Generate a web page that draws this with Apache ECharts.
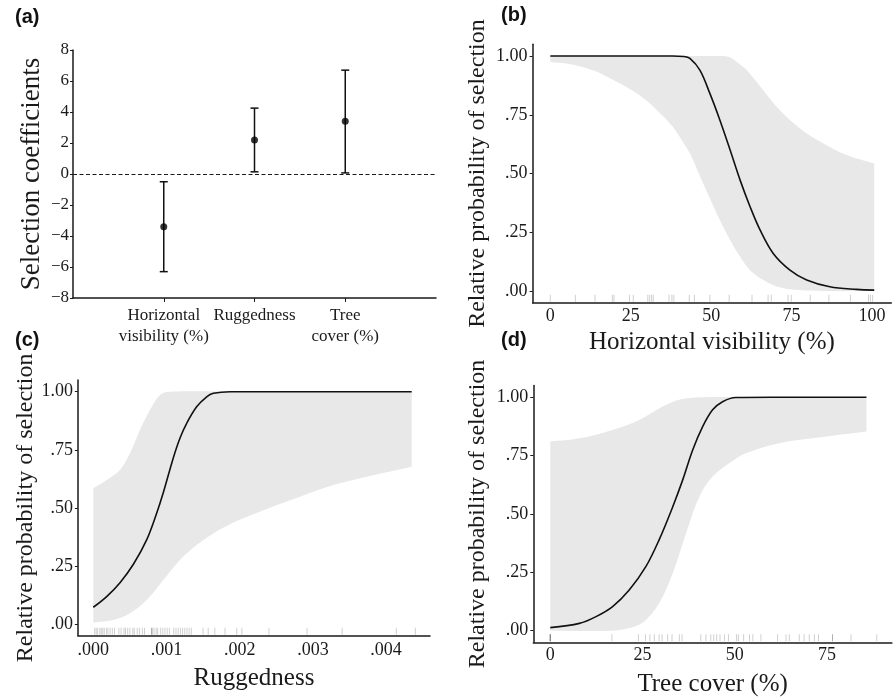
<!DOCTYPE html>
<html>
<head>
<meta charset="utf-8">
<script src="https://cdn.jsdelivr.net/npm/echarts@6/dist/echarts.min.js"></script>
<style>
	html, body { margin: 0; padding: 0; background: #fff; }
	#chart { width: 896px; height: 700px; }
</style>
</head>
<body>
<div id="chart"></div>
<script>
// (a) selection coefficients with 95% CI
var coefCats = ['Horizontal\nvisibility (%)', 'Ruggedness', 'Tree\ncover (%)'];
var coefMean = [-3.4, 2.2, 3.4];
var coefLow = [-6.3, 0.14, 0.07];
var coefHigh = [-0.5, 4.25, 6.7];

// shared probability axis ticks
var probTickVals = [0, 0.25, 0.5, 0.75, 1];
var probTickLabels = ['.00', '.25', '.50', '.75', '1.00'];

// (b) horizontal visibility
var bTickVals = [0, 25, 50, 75, 100];
var bCurveX = [0, 20, 38, 41.5, 43.4, 46.5, 49.6, 52.7, 55.9, 59, 62.1, 65.2, 69.3, 74.5, 79.7, 86.9, 95.2, 100.7];
var bCurveY = [1, 1, 1, 0.998, 0.99, 0.94, 0.841, 0.728, 0.6, 0.472, 0.359, 0.26, 0.16, 0.089, 0.047, 0.018, 0.007, 0.004];
var bUpX = [0, 20, 40, 50, 53.8, 55.9, 58, 61.1, 66.2, 71.3, 77.6, 84.9, 92.1, 100.7];
var bUpY = [1, 1, 1, 1, 1, 0.994, 0.975, 0.94, 0.855, 0.77, 0.692, 0.628, 0.579, 0.543];
var bLowX = [0, 5, 10, 15, 20, 25, 30, 35, 38, 41, 43.4, 46.5, 49.6, 52.7, 55.9, 59, 62.1, 66.2, 71.3, 77.6, 85, 100.7];
var bLowY = [0.975, 0.968, 0.953, 0.93, 0.895, 0.858, 0.81, 0.745, 0.7, 0.64, 0.585, 0.49, 0.395, 0.302, 0.217, 0.146, 0.089, 0.047, 0.016, 0.004, 0, 0];
var bRug = [0, 7.8, 13.9, 19.3, 19.8, 24.6, 25.8, 30.3, 30.9, 31.5, 32, 36.9, 37.8, 38.4, 43.2, 44.8, 49.6, 55.6, 62.7, 67.7, 68.7, 73.9, 74.9, 80.8, 86.6, 93.3, 98.9, 99.5, 100.2];

// (c) ruggedness
var cTickVals = [0, 0.001, 0.002, 0.003, 0.004];
var cTickLabels = ['.000', '.001', '.002', '.003', '.004'];
var cCurveX = [0, 0.000183, 0.000365, 0.000546, 0.000729, 0.000866, 0.000956, 0.001093, 0.001184, 0.001276, 0.001412, 0.001549, 0.00164, 0.00187, 0.0025, 0.00435];
var cCurveY = [0.072, 0.118, 0.178, 0.256, 0.362, 0.477, 0.565, 0.715, 0.8, 0.864, 0.935, 0.978, 0.993, 1, 1, 1];
var cUpX = [0, 0.000183, 0.000365, 0.000501, 0.000638, 0.000775, 0.000911, 0.001048, 0.002, 0.00435];
var cUpY = [0.584, 0.62, 0.663, 0.735, 0.835, 0.921, 0.986, 1, 1, 1];
var cLowX = [0, 0.000273, 0.000501, 0.000729, 0.000956, 0.001184, 0.001412, 0.001639, 0.0019, 0.002369, 0.002825, 0.00328, 0.003736, 0.00435];
var cLowY = [0.006, 0.017, 0.046, 0.103, 0.189, 0.276, 0.34, 0.39, 0.435, 0.495, 0.548, 0.598, 0.634, 0.677];
var cRug = [0.00002, 0.00004, 0.00006, 0.00009, 0.00011, 0.00013, 0.00015, 0.00018, 0.0002, 0.00023, 0.00026, 0.00029,
	0.00035, 0.00038, 0.00042, 0.00044, 0.00047, 0.0005, 0.00054, 0.00056, 0.0006, 0.00063, 0.00067, 0.0007,
	0.0008, 0.0008, 0.0008, 0.00083, 0.00086, 0.00088, 0.00092, 0.00095, 0.00098, 0.00101, 0.00104,
	0.0011, 0.00113, 0.00116, 0.00119, 0.00122, 0.00125, 0.00128, 0.00131, 0.00134,
	0.0015, 0.00157, 0.00166, 0.0018, 0.00196, 0.00203, 0.0024, 0.00292, 0.0034, 0.00414, 0.0044];

// (d) tree cover
var dTickVals = [0, 25, 50, 75];
var dCurveX = [0, 7.9, 12.4, 16.9, 21.4, 25.9, 29.5, 33.2, 35.9, 38.6, 41.3, 44, 46.7, 50.3, 60, 85.7];
var dCurveY = [0.013, 0.031, 0.06, 0.103, 0.174, 0.274, 0.389, 0.531, 0.646, 0.774, 0.874, 0.946, 0.981, 0.999, 1, 1];
var dUpX = [0, 7.9, 16.9, 24.1, 30.5, 34.9, 39.5, 60, 85.7];
var dUpY = [0.81, 0.824, 0.86, 0.903, 0.96, 0.989, 0.999, 1, 1];
var dLowX = [0, 16.9, 22.3, 25.9, 29.5, 33.2, 36.8, 40.4, 44, 48.5, 53, 62.1, 71.1, 85.7];
var dLowY = [0, 0, 0.014, 0.046, 0.117, 0.246, 0.417, 0.574, 0.66, 0.717, 0.76, 0.803, 0.824, 0.853];
var dRug = [0, 0, 0, 0, 0, 16.7, 23.9, 25.8, 27, 28.2, 29.5, 30.3, 31.8, 33, 35, 35.7, 40.8, 42.2, 43.5, 44.3, 45.1, 46,
	47.2, 48.3, 50.5, 51, 52.4, 54, 54.9, 57.1, 61.6, 63.9, 64.8, 67.5, 68.8, 70.2, 71.6, 72.7, 76.5, 76.5, 81.5, 88.5];

var SERIF = '"Liberation Serif", "DejaVu Serif", serif';
var INK = '#1a1a1a';
var RUG_Y = -0.031;
var SMOOTH = 0.35;

function pairs(xs, ys) {
	return xs.map(function(x, i) { return [x, ys[i]]; });
}

// bezier segments through pixel points, same idea as echarts' own line smoothing
function curveTo(p) {
	function ctrl(a, b, c) {
		var vx = c[0] - a[0], vy = c[1] - a[1];
		var d0 = Math.hypot(b[0] - a[0], b[1] - a[1]);
		var d1 = Math.hypot(c[0] - b[0], c[1] - b[1]);
		var r = d0 + d1 ? d0 / (d0 + d1) : 0.5;
		return {
			inP: [b[0] - vx * SMOOTH * r, b[1] - vy * SMOOTH * r],
			outP: [b[0] + vx * SMOOTH * (1 - r), b[1] + vy * SMOOTH * (1 - r)]
		};
	}
	var s = '';
	for (var i = 0; i < p.length - 1; i++) {
		var c1 = ctrl(p[i - 1] || p[i], p[i], p[i + 1]).outP;
		var c2 = ctrl(p[i], p[i + 1], p[i + 2] || p[i + 1]).inP;
		s += ' C' + c1[0] + ',' + c1[1] + ' ' + c2[0] + ',' + c2[1] + ' ' + p[i + 1][0] + ',' + p[i + 1][1];
	}
	return s;
}

function axisLine() {
	return { show: true, onZero: false, lineStyle: { color: INK, width: 1.5 } };
}

function labelStyle(extra) {
	var s = { fontFamily: SERIF, fontSize: 18, color: INK };
	for (var k in extra) s[k] = extra[k];
	return s;
}

function probY(gi, gap) {
	return {
		type: 'value', gridIndex: gi, min: -0.05, max: 1.05, z: 5,
		name: 'Relative probability of selection', nameLocation: 'middle', nameGap: gap,
		nameTextStyle: { fontFamily: SERIF, fontSize: 24, color: INK },
		axisLine: axisLine(),
		axisTick: { show: true, length: 3, customValues: probTickVals, lineStyle: { color: INK } },
		axisLabel: labelStyle({ customValues: probTickVals, margin: 5, formatter: function(v) {
			return probTickLabels[probTickVals.indexOf(v)];
		} }),
		splitLine: { show: false }
	};
}

function probX(gi, min, max, ticks, labels, name, gap, margin) {
	return {
		type: 'value', gridIndex: gi, min: min, max: max, z: 5,
		name: name, nameLocation: 'middle', nameGap: gap,
		nameTextStyle: { fontFamily: SERIF, fontSize: 25, color: INK },
		axisLine: axisLine(),
		axisTick: { show: false },
		axisLabel: labelStyle({ customValues: ticks, margin: margin, formatter: function(v) {
			return labels ? labels[ticks.indexOf(v)] : String(v);
		} }),
		splitLine: { show: false }
	};
}

function panelSeries(gi, upX, upY, lowX, lowY, rug, curX, curY) {
	return [{
		// confidence band: upper edge forward, lower edge back
		type: 'custom', xAxisIndex: gi, yAxisIndex: gi, silent: true, z: 1,
		data: [0],
		renderItem: function(params, api) {
			var up = upX.map(function(x, i) { return api.coord([x, upY[i]]); });
			var low = lowX.map(function(x, i) { return api.coord([x, lowY[i]]); }).reverse();
			var d = 'M' + up[0][0] + ',' + up[0][1] + curveTo(up) +
				' L' + low[0][0] + ',' + low[0][1] + curveTo(low) + ' Z';
			return { type: 'path', shape: { pathData: d }, style: { fill: '#e8e8e8' } };
		}
	}, {
		type: 'scatter', xAxisIndex: gi, yAxisIndex: gi, silent: true, z: 3,
		symbol: 'rect', symbolSize: [1, 7],
		itemStyle: { color: 'rgba(100,100,100,0.38)' },
		data: rug.map(function(x) { return [x, RUG_Y]; })
	}, {
		type: 'line', xAxisIndex: gi, yAxisIndex: gi, silent: true, z: 4,
		data: pairs(curX, curY), smooth: SMOOTH, symbol: 'none',
		lineStyle: { color: '#111', width: 1.6 }
	}];
}

var myChart = echarts.init(document.getElementById('chart'));

var option = {
	backgroundColor: '#fff',
	animation: false,
	grid: [
		{ left: 73, top: 50, width: 363, height: 248 },
		{ left: 532.6, top: 44.3, width: 358.7, height: 258.5 },
		{ left: 77.9, top: 380.1, width: 352.1, height: 255.5 },
		{ left: 533.3, top: 385.6, width: 358.6, height: 256.7 }
	],
	xAxis: [{
		type: 'value', gridIndex: 0, min: 0, max: 4, z: 5,
		axisLine: axisLine(),
		axisTick: { show: true, length: 4, customValues: [1, 2, 3], lineStyle: { color: INK } },
		axisLabel: labelStyle({ customValues: [1, 2, 3], margin: 7, lineHeight: 21, verticalAlign: 'top', fontSize: 17,
			formatter: function(v) { return coefCats[v - 1]; } }),
		splitLine: { show: false }
	},
		probX(1, -5.5, 106, bTickVals, null, 'Horizontal visibility (%)', 27, 4),
		probX(2, -0.00021, 0.0046, cTickVals, cTickLabels, 'Ruggedness', 30, 6),
		probX(3, -4.6, 92.6, dTickVals, null, 'Tree cover (%)', 30, 4)
	],
	yAxis: [{
		type: 'value', gridIndex: 0, min: -8, max: 8, interval: 2, z: 5,
		name: 'Selection coefficients', nameLocation: 'middle', nameGap: 28,
		nameTextStyle: { fontFamily: SERIF, fontSize: 27, color: INK },
		axisLine: axisLine(),
		axisTick: { show: true, length: 3, lineStyle: { color: INK } },
		axisLabel: labelStyle({ margin: 4, fontSize: 17, formatter: function(v) {
			return v < 0 ? '\u2212' + Math.abs(v) : String(v);
		} }),
		splitLine: { show: false }
	},
		probY(1, 43),
		probY(2, 39),
		probY(3, 44)
	],
	graphic: [
		{ type: 'text', left: 15, top: 7, style: { text: '(a)', font: 'bold 20px "Liberation Sans", Arial, sans-serif', fill: '#111' } },
		{ type: 'text', left: 501, top: 5, style: { text: '(b)', font: 'bold 20px "Liberation Sans", Arial, sans-serif', fill: '#111' } },
		{ type: 'text', left: 15, top: 330, style: { text: '(c)', font: 'bold 20px "Liberation Sans", Arial, sans-serif', fill: '#111' } },
		{ type: 'text', left: 501, top: 330, style: { text: '(d)', font: 'bold 20px "Liberation Sans", Arial, sans-serif', fill: '#111' } }
	],
	series: [{
		type: 'custom', xAxisIndex: 0, yAxisIndex: 0, silent: true, z: 3,
		data: coefLow.map(function(lo, i) { return [i + 1, lo, coefHigh[i]]; }),
		renderItem: function(params, api) {
			var top = api.coord([api.value(0), api.value(2)]);
			var bot = api.coord([api.value(0), api.value(1)]);
			var w = 4;
			var st = { stroke: '#111', lineWidth: 1.5 };
			return {
				type: 'group',
				children: [
					{ type: 'line', shape: { x1: top[0], y1: top[1], x2: bot[0], y2: bot[1] }, style: st },
					{ type: 'line', shape: { x1: top[0] - w, y1: top[1], x2: top[0] + w, y2: top[1] }, style: st },
					{ type: 'line', shape: { x1: bot[0] - w, y1: bot[1], x2: bot[0] + w, y2: bot[1] }, style: st }
				]
			};
		}
	}, {
		type: 'scatter', xAxisIndex: 0, yAxisIndex: 0, silent: true, z: 4,
		symbolSize: 7, itemStyle: { color: '#000' },
		data: coefMean.map(function(m, i) { return [i + 1, m]; }),
		markLine: {
			silent: true, symbol: ['none', 'none'], label: { show: false },
			lineStyle: { color: INK, width: 1, type: [4, 2.5] },
			data: [{ yAxis: 0 }]
		}
	}]
		.concat(panelSeries(1, bUpX, bUpY, bLowX, bLowY, bRug, bCurveX, bCurveY))
		.concat(panelSeries(2, cUpX, cUpY, cLowX, cLowY, cRug, cCurveX, cCurveY))
		.concat(panelSeries(3, dUpX, dUpY, dLowX, dLowY, dRug, dCurveX, dCurveY))
};

myChart.setOption(option);
</script>
</body>
</html>
